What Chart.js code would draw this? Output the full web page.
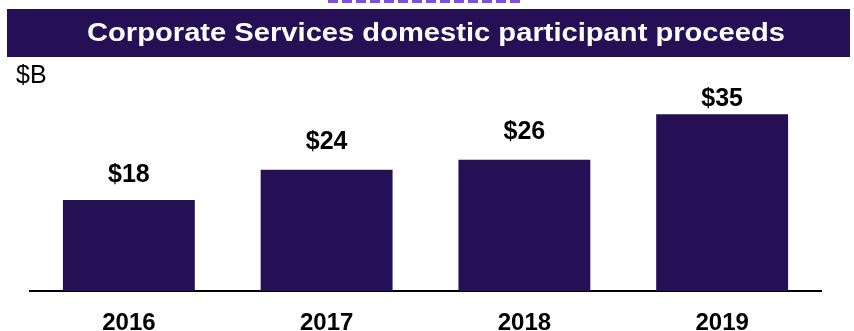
<!DOCTYPE html>
<html>
<head>
<meta charset="utf-8">
<script src="https://cdn.jsdelivr.net/npm/chart.js@4"></script>
<style>
  html, body { margin: 0; padding: 0; background: #fff; }
  #wrap { width: 854px; height: 331px; }
</style>
</head>
<body>
<div id="wrap"><canvas id="proceeds-chart"></canvas></div>
<script>
const years = ['2016', '2017', '2018', '2019'];
const proceeds = [18, 24, 26, 35];
const valueLabels = ['$18', '$24', '$26', '$35'];

const PURPLE = '#251055';
const FONT = '"Liberation Sans", Arial, sans-serif';
const TITLE = 'Corporate Services domestic participant proceeds';

// header band, dashed accent line and unit label
const headerPlugin = {
    id: 'header',
    beforeDraw(chart) {
        const { ctx } = chart;
        ctx.save();
        ctx.fillStyle = '#ffffff';
        ctx.fillRect(0, 0, chart.width, chart.height);

        ctx.strokeStyle = '#7b4fe0';
        ctx.lineWidth = 4;
        ctx.setLineDash([10, 4]);
        ctx.beginPath();
        ctx.moveTo(328, 1);
        ctx.lineTo(521, 1);
        ctx.stroke();
        ctx.setLineDash([]);

        ctx.fillStyle = PURPLE;
        ctx.fillRect(7, 9, 843, 48);

        // title is set slightly wide, like the slide it comes from
        ctx.fillStyle = '#ffffff';
        ctx.font = 'bold 26px ' + FONT;
        ctx.textAlign = 'center';
        ctx.textBaseline = 'alphabetic';
        const w = ctx.measureText(TITLE).width;
        ctx.translate(436, 41);
        ctx.scale(698 / w, 1);
        ctx.fillText(TITLE, 0, 0);
        ctx.setTransform(1, 0, 0, 1, 0, 0);

        ctx.fillStyle = '#000000';
        ctx.font = '25px ' + FONT;
        ctx.textAlign = 'left';
        ctx.fillText('$B', 16, 83);
        ctx.restore();
    },
};

// value labels above each bar
const labelGap = [18, 21, 21, 8];
const valueLabelPlugin = {
    id: 'valueLabels',
    afterDatasetsDraw(chart) {
        const { ctx } = chart;
        const meta = chart.getDatasetMeta(0);
        ctx.save();
        ctx.fillStyle = '#000000';
        ctx.font = 'bold 25px ' + FONT;
        ctx.textAlign = 'center';
        ctx.textBaseline = 'alphabetic';
        meta.data.forEach((bar, i) => {
            ctx.fillText(valueLabels[i], bar.x, bar.y - labelGap[i]);
        });
        ctx.restore();
    },
};

const ctx = document.getElementById('proceeds-chart').getContext('2d');
const proceedsChart = new Chart(ctx, {
    type: 'bar',
    data: {
        labels: years,
        datasets: [
            {
                data: proceeds,
                backgroundColor: PURPLE,
                barPercentage: 0.667,
                categoryPercentage: 1,
            },
        ],
    },
    options: {
        responsive: true,
        maintainAspectRatio: false,
        animation: false,
        layout: {
            padding: { top: 89, left: 30, right: 33, bottom: 0 },
        },
        plugins: {
            legend: { display: false },
            tooltip: { enabled: false },
        },
        scales: {
            x: {
                grid: { display: false },
                border: { display: true, color: '#000000', width: 2 },
                ticks: {
                    color: '#000000',
                    font: { family: FONT, size: 24, weight: 'bold' },
                    padding: 10,
                },
                afterFit(scale) {
                    scale.height = 40;
                },
            },
            y: {
                display: false,
                min: 0,
                max: 40,
            },
        },
    },
    plugins: [headerPlugin, valueLabelPlugin],
});
</script>
</body>
</html>
